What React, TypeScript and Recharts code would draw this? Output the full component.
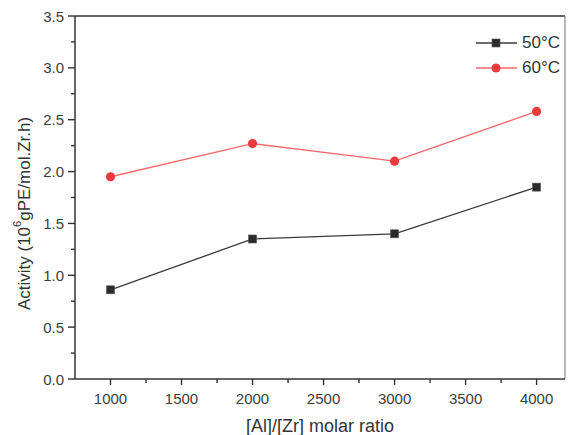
import { LineChart, Line, XAxis, YAxis, ReferenceLine } from 'recharts';

const ratios = [1000, 2000, 3000, 4000];
const activity50 = [0.86, 1.35, 1.4, 1.85];
const activity60 = [1.95, 2.27, 2.1, 2.58];

const xTicks = [1000, 1250, 1500, 1750, 2000, 2250, 2500, 2750, 3000, 3250, 3500, 3750, 4000];
const yTicks = [0, 0.25, 0.5, 0.75, 1, 1.25, 1.5, 1.75, 2, 2.25, 2.5, 2.75, 3, 3.25, 3.5];

const series = [
  { key: 'a50', name: '50°C', values: activity50, line: '#3a3a3a', mark: '#2b2b2b', shape: 'square' },
  { key: 'a60', name: '60°C', values: activity60, line: '#f46a6a', mark: '#ec3a3e', shape: 'circle' },
];

const data = ratios.map((ratio, i) => ({
  ratio,
  a50: activity50[i],
  a60: activity60[i],
}));

const FONT = '"Liberation Sans", Arial, Helvetica, sans-serif';
const AXIS = '#333';

function Marker({ cx, cy, shape, color }: any) {
  if (cx == null || cy == null) return null;
  if (shape === 'square') {
    return <rect x={cx - 4} y={cy - 4} width={8} height={8} fill={color} stroke="#555" strokeWidth={0.6} />;
  }
  return <circle cx={cx} cy={cy} r={4.6} fill={color} />;
}

function XTick({ x, y, payload }: any) {
  const major = payload.value % 500 === 0;
  return (
    <g>
      <line x1={x} x2={x} y1={y} y2={y + (major ? 6 : 4)} stroke={AXIS} strokeWidth={1.4} />
      {major && (
        <text x={x} y={y + 19} textAnchor="middle" dominantBaseline="central" fontSize={15} fill="#3c3c3c" fontFamily={FONT}>
          {payload.value}
        </text>
      )}
    </g>
  );
}

function YTick({ x, y, payload }: any) {
  const major = Math.round(payload.value * 100) % 50 === 0;
  return (
    <g>
      <line x1={x - (major ? 7 : 4)} x2={x} y1={y} y2={y} stroke={AXIS} strokeWidth={1.4} />
      {major && (
        <text x={x - 11} y={y} textAnchor="end" dominantBaseline="central" fontSize={15} fill="#3c3c3c" fontFamily={FONT}>
          {payload.value.toFixed(1)}
        </text>
      )}
    </g>
  );
}

function ChartLegend() {
  return (
    <div style={{ position: 'absolute', top: 30, left: 476, fontFamily: FONT }}>
      {series.map((s) => (
        <div key={s.key} style={{ display: 'flex', alignItems: 'center', height: 25.6 }}>
          <svg width={42} height={26}>
            <line x1={0} x2={41} y1={13} y2={13} stroke={s.line} strokeWidth={1.3} />
            <Marker cx={20} cy={13} shape={s.shape} color={s.mark} />
          </svg>
          <span style={{ marginLeft: 4, fontSize: 17, color: '#333' }}>{s.name}</span>
        </div>
      ))}
    </div>
  );
}

export default function App() {
  return (
    <div style={{ position: 'absolute', left: 0, top: 0, width: 571, height: 435, background: '#fff', fontFamily: FONT }}>
      <LineChart width={571} height={435} data={data} margin={{ top: 16, right: 6, bottom: 0, left: 0 }}>
        <XAxis
          dataKey="ratio"
          type="number"
          domain={[750, 4200]}
          ticks={xTicks}
          interval={0}
          height={56}
          tickSize={0}
          tickMargin={0}
          tickLine={false}
          tick={<XTick />}
          axisLine={{ stroke: AXIS, strokeWidth: 1.5 }}
          label={{
            content: ({ viewBox }: any) => (
              <text
                x={viewBox.x + viewBox.width / 2}
                y={426}
                textAnchor="middle"
                dominantBaseline="central"
                fontSize={18}
                fill="#333"
                fontFamily={FONT}
              >
                [Al]/[Zr] molar ratio
              </text>
            ),
          }}
        />
        <YAxis
          type="number"
          domain={[0, 3.5]}
          ticks={yTicks}
          interval={0}
          width={75}
          tickSize={0}
          tickMargin={0}
          tickLine={false}
          tick={<YTick />}
          axisLine={{ stroke: AXIS, strokeWidth: 1.5 }}
          label={{
            content: ({ viewBox }: any) => {
              const cy = viewBox.y + viewBox.height / 2 + 16;
              return (
                <text
                  x={24}
                  y={cy}
                  transform={`rotate(-90, 24, ${cy})`}
                  textAnchor="middle"
                  dominantBaseline="central"
                  fontSize={17}
                  fill="#333"
                  fontFamily={FONT}
                >
                  Activity (10<tspan fontSize={11} dy={-7}>6</tspan>
                  <tspan dy={7}>gPE/mol.Zr.h)</tspan>
                </text>
              );
            },
          }}
        />
        <ReferenceLine y={3.5} stroke={AXIS} strokeWidth={1.5} />
        <ReferenceLine x={4200} stroke="#888" strokeWidth={1.2} />
        {series.map((s) => (
          <Line
            key={s.key}
            dataKey={s.key}
            name={s.name}
            stroke={s.line}
            strokeWidth={1.3}
            isAnimationActive={false}
            dot={(p: any) => <Marker key={`${s.key}-${p.index}`} cx={p.cx} cy={p.cy} shape={s.shape} color={s.mark} />}
            activeDot={false}
          />
        ))}
      </LineChart>
      <ChartLegend />
    </div>
  );
}
